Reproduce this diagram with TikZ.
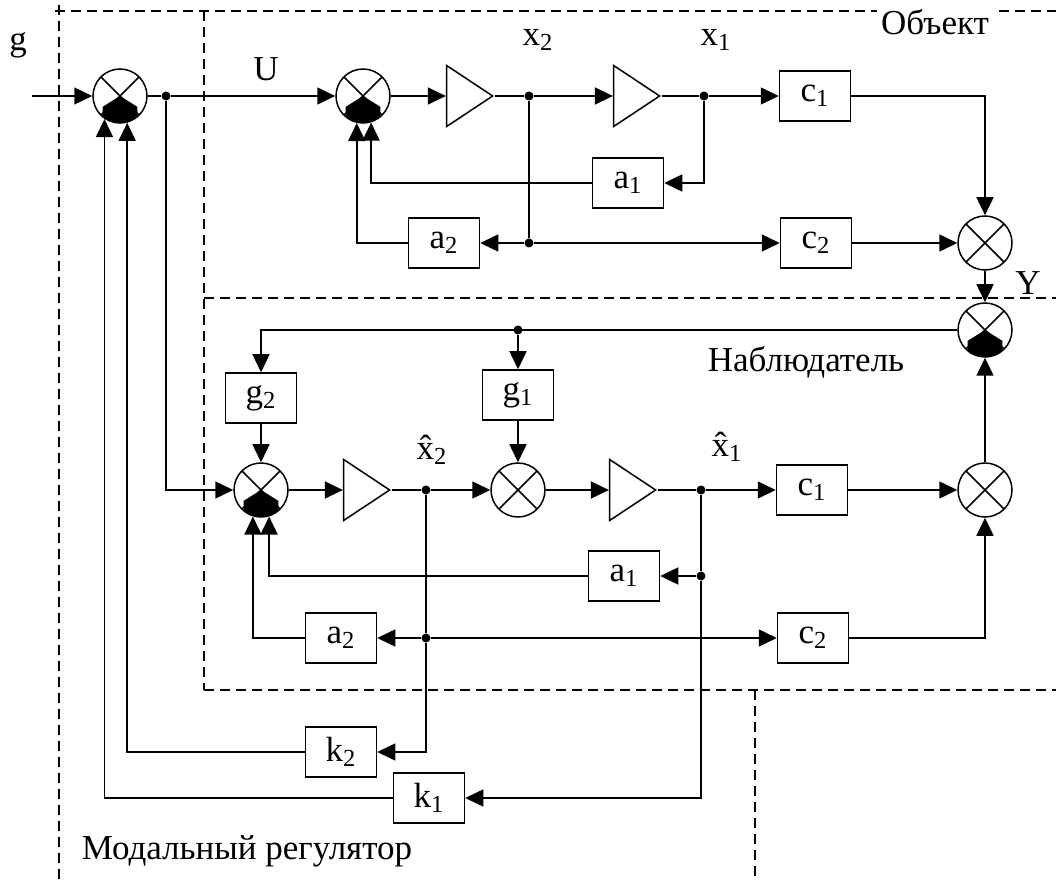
\documentclass[tikz,border=0pt]{standalone}
\usepackage{fontspec}
\setmainfont{Liberation Serif}
\usetikzlibrary{arrows.meta, shapes.geometric}

\begin{document}
\begin{tikzpicture}[x=0.5pt, y=-0.5pt, line width=0.75pt,
  >={Triangle[length=9pt, width=8.5pt]},
  every node/.style={font=\fontsize{17.5}{21}\selectfont},
  blk/.style={draw, minimum width=35.5pt, minimum height=25pt, inner sep=0pt},
  amp/.style={draw, isosceles triangle, isosceles triangle stretches,
    minimum width=30.5pt, minimum height=23pt, inner sep=0pt},
  sum/.style={draw, circle, minimum size=27pt, inner sep=0pt,
    path picture={\draw (path picture bounding box.north west) -- (path picture bounding box.south east)
      (path picture bounding box.south west) -- (path picture bounding box.north east);}},
  sumb/.style={draw, circle, minimum size=27pt, inner sep=0pt,
    path picture={\draw (path picture bounding box.north west) -- (path picture bounding box.south east)
      (path picture bounding box.south west) -- (path picture bounding box.north east);
      \fill (path picture bounding box.center) -- ++(-148:10.2pt) -- ++(0pt,-9pt)
        -- ++(17.3pt,0pt) -- ++(0pt,9pt) -- cycle;}},
  dot/.style={circle, fill, inner sep=0pt, minimum size=4.5pt},
  lbl/.style={inner sep=0pt},
  frame/.style={dash pattern=on 5pt off 3pt}]
  \useasboundingbox (0,0) rectangle (1056,882);
  % Frames
  \draw[frame] (59,5) -- (59,882);
  \draw[frame] (55,11) -- (1056,11);
  \draw[frame] (204,11) -- (204,690);
  \draw[frame] (204,298) -- (1056,298);
  \draw[frame] (204,690) -- (1056,690);
  \draw[frame] (755,690) -- (755,882);
  % Object
  \coordinate (gin) at (32,96);
  \node[sumb] (S0) at (120,96) {};
  \node[dot] (jU) at (166,96) {};
  \node[sumb] (S1) at (363,96) {};
  \node[amp] (A1) at (463,96) {};
  \node[dot] (jx2) at (529,96) {};
  \node[amp] (A2) at (630,96) {};
  \node[dot] (jx1) at (704,96) {};
  \node[blk] (c1) at (815,96) {c\textsubscript{1}};
  \node[blk] (a1) at (628,183) {a\textsubscript{1}};
  \node[blk] (a2) at (444,243) {a\textsubscript{2}};
  \node[dot] (ja2) at (529,243) {};
  \node[blk] (c2) at (816,243) {c\textsubscript{2}};
  \node[sum] (S2) at (985,243) {};
  \node[sumb] (SY) at (985,330) {};
  \draw[->] (gin) -- (S0);
  \draw (S0) -- (jU);
  \draw[->] (jU) -- (S1);
  \draw[->] (S1) -- (A1);
  \draw (A1) -- (jx2);
  \draw[->] (jx2) -- (A2);
  \draw (A2) -- (jx1);
  \draw[->] (jx1) -- (c1);
  \draw[->] (c1) -| (S2);
  \draw[->] (jx1) |- (a1);
  \draw[->] (a1) -| (S1.-73);
  \draw (jx2) -- (ja2);
  \draw[->] (ja2) -- (a2);
  \draw[->] (ja2) -- (c2);
  \draw[->] (a2) -| (S1.-103);
  \draw[->] (c2) -- (S2);
  \draw[->] (S2) -- (SY);
  % Observer
  \node[dot] (jg) at (518,330) {};
  \node[blk] (g2) at (261,398) {g\textsubscript{2}};
  \node[blk] (g1) at (518,395) {g\textsubscript{1}};
  \node[sumb] (S3) at (261,490) {};
  \node[amp] (A3) at (360,490) {};
  \node[dot] (jh2) at (426,490) {};
  \node[sum] (S4) at (518,490) {};
  \node[amp] (A4) at (626,490) {};
  \node[dot] (jh1) at (701,490) {};
  \node[blk] (c1o) at (812,490) {c\textsubscript{1}};
  \node[sum] (S5) at (985,490) {};
  \node[blk] (a1o) at (624,576) {a\textsubscript{1}};
  \node[dot] (ja1o) at (701,576) {};
  \node[blk] (a2o) at (341,638) {a\textsubscript{2}};
  \node[dot] (ja2o) at (426,638) {};
  \node[blk] (c2o) at (813,638) {c\textsubscript{2}};
  \draw[->] (jU) |- (S3);
  \draw[->] (SY) -| (g2);
  \draw[->] (jg) -- (g1);
  \draw[->] (g2) -- (S3);
  \draw[->] (g1) -- (S4);
  \draw[->] (S3) -- (A3);
  \draw (A3) -- (jh2);
  \draw[->] (jh2) -- (S4);
  \draw[->] (S4) -- (A4);
  \draw (A4) -- (jh1);
  \draw[->] (jh1) -- (c1o);
  \draw[->] (c1o) -- (S5);
  \draw[->] (S5) -- (SY);
  \draw (jh1) -- (ja1o);
  \draw[->] (ja1o) -- (a1o);
  \draw[->] (a1o) -| (S3.-73);
  \draw (jh2) -- (ja2o);
  \draw[->] (ja2o) -- (a2o);
  \draw[->] (ja2o) -- (c2o);
  \draw[->] (a2o) -| (S3.-107);
  \draw[->] (c2o) -| (S5);
  % Modal regulator
  \node[blk] (k2) at (341,752) {k\textsubscript{2}};
  \node[blk] (k1) at (429,798) {k\textsubscript{1}};
  \draw[->] (ja2o) |- (k2);
  \draw[->] (ja1o) |- (k1);
  \draw[->] (k2) -| (S0.-75);
  \draw[->] (k1) -| (S0.-124);
  % Labels
  \node[lbl] (lg) at (18,45) {g};
  \node[lbl] (lU) at (266,69) {U};
  \node[lbl] (lx2) at (538,40) {x\textsubscript{2}};
  \node[lbl] (lx1) at (716,40) {x\textsubscript{1}};
  \node[lbl] (lY) at (1028,283) {Y};
  \node[lbl, fill=white, inner sep=2pt] (lobj) at (935,22) {Объект};
  \node[lbl] (lobs) at (806,362) {Наблюдатель};
  \node[lbl] (lh2) at (432,450) {\^{x}\textsubscript{2}};
  \node[lbl] (lh1) at (727,447) {\^{x}\textsubscript{1}};
  \node[lbl] (lreg) at (247,851) {Модальный регулятор};
\end{tikzpicture}
\end{document}
